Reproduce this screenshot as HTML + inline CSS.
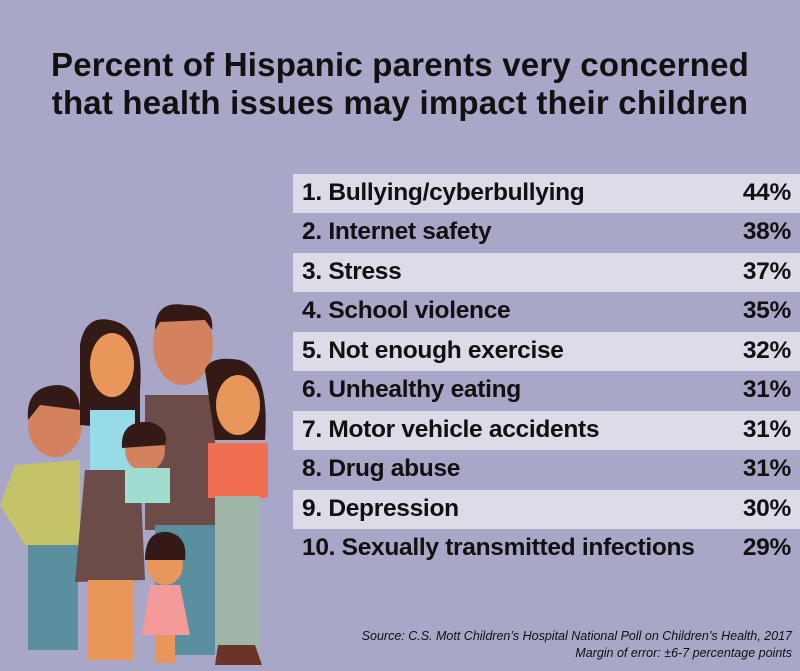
<!DOCTYPE html>
<html><head><meta charset="utf-8"><style>
body{margin:0;width:800px;height:671px;background:#a8a7c7;position:relative;overflow:hidden;font-family:"Liberation Sans",sans-serif;}
h1{position:absolute;top:46px;left:0;width:800px;text-align:center;margin:0;font-size:33px;line-height:38px;font-weight:bold;color:#111;letter-spacing:0.2px}
.row{position:absolute;left:293px;width:507px;height:39px;}
.l{background:#dcdce9;}
.row span{position:absolute;top:5px;font-size:24.5px;font-weight:bold;color:#111;letter-spacing:-0.3px}
.row .a{left:9px}.row .b{right:9px}
.src{position:absolute;right:8px;top:628px;text-align:right;font-style:italic;font-size:12.5px;line-height:17px;color:#111;}
</style></head><body>
<h1>Percent of Hispanic parents very concerned<br>that health issues may impact their children</h1>
<div class="row l" style="top:174px"><span class="a">1. Bullying/cyberbullying</span><span class="b">44%</span></div>
<div class="row" style="top:213px"><span class="a">2. Internet safety</span><span class="b">38%</span></div>
<div class="row l" style="top:253px"><span class="a">3. Stress</span><span class="b">37%</span></div>
<div class="row" style="top:292px"><span class="a">4. School violence</span><span class="b">35%</span></div>
<div class="row l" style="top:332px"><span class="a">5. Not enough exercise</span><span class="b">32%</span></div>
<div class="row" style="top:371px"><span class="a">6. Unhealthy eating</span><span class="b">31%</span></div>
<div class="row l" style="top:411px"><span class="a">7. Motor vehicle accidents</span><span class="b">31%</span></div>
<div class="row" style="top:450px"><span class="a">8. Drug abuse</span><span class="b">31%</span></div>
<div class="row l" style="top:490px"><span class="a">9. Depression</span><span class="b">30%</span></div>
<div class="row" style="top:529px"><span class="a">10. Sexually transmitted infections</span><span class="b">29%</span></div>
<svg style="position:absolute;left:0;top:260px" width="300" height="411">
<rect x="145" y="135" width="70" height="135" fill="#6b4c48"/>
<rect x="155" y="265" width="60" height="130" fill="#5a8fa0"/>
<ellipse cx="183" cy="85" rx="30" ry="40" fill="#d4825e"/>
<path d="M155 70 Q155 40 185 45 Q215 45 212 70 L205 60 L160 62Z" fill="#331a16"/>
<path d="M205 110 Q210 95 240 100 Q270 110 265 180 L215 180Z" fill="#331a16"/>
<ellipse cx="238" cy="145" rx="22" ry="30" fill="#e8965a"/>
<rect x="208" y="183" width="60" height="55" fill="#f06e52"/>
<rect x="215" y="236" width="45" height="150" fill="#9fb5a8"/>
<path d="M218 385 L255 385 L262 405 L215 405Z" fill="#6c3328"/>
<ellipse cx="55" cy="165" rx="27" ry="32" fill="#d4825e"/>
<path d="M28 160 Q25 125 60 125 Q80 128 80 150 L40 145Z" fill="#331a16"/>
<path d="M15 205 L80 200 L80 290 L25 285 L0 245Z" fill="#c5c36a"/>
<rect x="28" y="285" width="50" height="105" fill="#5a8fa0"/>
<path d="M80 85 Q85 55 110 60 Q145 65 140 130 L140 170 L80 165Z" fill="#331a16"/>
<ellipse cx="112" cy="105" rx="22" ry="32" fill="#e8965a"/>
<rect x="90" y="150" width="45" height="70" fill="#97dbe8"/>
<path d="M85 210 L140 210 L145 320 L75 322Z" fill="#6b4c48"/>
<rect x="88" y="320" width="45" height="80" fill="#e8965a"/>
<ellipse cx="145" cy="190" rx="20" ry="22" fill="#d4825e"/>
<path d="M122 188 Q120 160 150 162 Q170 168 165 185Z" fill="#331a16"/>
<rect x="125" y="208" width="45" height="35" fill="#a0dcd0"/>
<ellipse cx="165" cy="305" rx="18" ry="20" fill="#e8965a"/>
<path d="M145 300 Q145 270 168 272 Q188 276 185 300Z" fill="#331a16"/>
<path d="M150 325 L180 325 L190 375 L142 375Z" fill="#f49a9a"/>
<rect x="155" y="375" width="20" height="28" fill="#e8965a"/>
</svg>
<div class="src">Source: C.S. Mott Children’s Hospital National Poll on Children’s Health, 2017<br>Margin of error: ±6-7 percentage points</div>
</body></html>
